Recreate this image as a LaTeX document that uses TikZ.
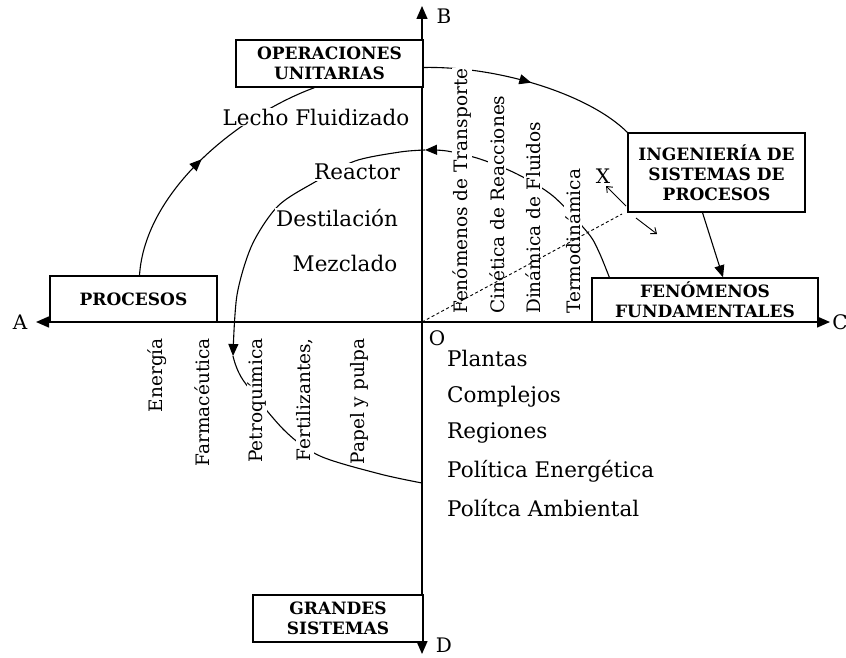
\documentclass[tikz,border=0pt]{standalone}
\usepackage{fontspec}
\setmainfont{DejaVu Serif}
\usetikzlibrary{arrows.meta,decorations.markings,calc}
\begin{document}
\begin{tikzpicture}[x=1pt,y=-1pt,
  box/.style={draw,line width=1.3pt,fill=white,inner sep=0pt,align=center,
     font=\fontsize{17}{20}\selectfont\bfseries},
  lbl/.style={font=\fontsize{21.5}{25}\selectfont,inner sep=1pt,fill=white},
  vlbl/.style={font=\fontsize{18.5}{22}\selectfont,inner sep=1pt,fill=white,rotate=90},
  axl/.style={font=\fontsize{20}{24}\selectfont,inner sep=0pt},
  axisline/.style={line width=1.4pt,-{Triangle[length=13pt,width=11pt]}},
  ln/.style={line width=1.1pt},
  bigtip/.style={-{Triangle[length=12pt,width=10pt]}},
  smalltip/.style={line width=0.9pt,-{Straight Barb[length=5pt,width=8pt]}},
  midtip/.style={postaction=decorate,decoration={markings,mark=at position #1 with {\arrow{Triangle[length=12pt,width=10pt]}}}},
]
\useasboundingbox (0,0) rectangle (846,658);
% axes
\coordinate (O) at (422,322);
\coordinate (Aend) at (36,322);
\coordinate (Bend) at (422,6);
\coordinate (Cend) at (830,322);
\coordinate (Dend) at (422,654);
\draw[axisline] (O) -- (Aend);
\draw[axisline] (O) -- (Bend);
\draw[axisline] (O) -- (Cend);
\draw[axisline] (O) -- (Dend);
\node[axl] (lA) at (20,322) {A};
\node[axl] (lB) at (444,16) {B};
\node[axl] (lC) at (840,322) {C};
\node[axl] (lD) at (444,645) {D};
\node[axl] (lO) at (437,338) {O};
% boxes
\node[box,minimum width=187pt,minimum height=47pt] (OPU) at (329.5,63.5) {OPERACIONES\\UNITARIAS};
\node[box,minimum width=177pt,minimum height=79pt] (ISP) at (716.5,172.5) {INGENIERÍA DE\\SISTEMAS DE\\PROCESOS};
\node[box,minimum width=226pt,minimum height=44pt] (FF) at (705,300) {FENÓMENOS\\FUNDAMENTALES};
\node[box,minimum width=167pt,minimum height=46pt] (PROC) at (133.5,299) {PROCESOS};
\node[box,minimum width=170pt,minimum height=47pt] (GS) at (338,618.5) {GRANDES\\SISTEMAS};
% curves
\draw[ln,midtip=0.5] ($(PROC.north)+(6,0)$) .. controls (145,190) and (240,115) .. ($(OPU.south)+(-15,0)$);
\draw[ln,midtip=0.5] ($(OPU.east)+(0,4)$) .. controls (500,66) and (590,95) .. (ISP.north west);
\draw[ln,bigtip] ($(ISP.south)+(-14,0)$) -- ($(FF.north)+(18,0)$);
\coordinate (f0) at ($(FF.north west)+(18,0)$);
\coordinate (k1) at (425,150);
\coordinate (k2) at (233,356);
\coordinate (k3) at (422,483);
\draw[ln,bigtip] plot[smooth] coordinates {(f0) (599,252) (588,233) (553,196) (517,174) (480,159) (447,151) (k1)};
\draw[ln,bigtip] plot[smooth] coordinates {(k1) (400,152) (355,161) (315,182) (278,206) (252,245) (237,295) (k2)};
\draw[ln] plot[smooth] coordinates {(k2) (243,380) (284,430) (320,456) (380,474) (k3)};
% small arrows near X
\coordinate (xa1) at (626,206);
\coordinate (xa2) at (606,186);
\coordinate (xb1) at (636,218);
\coordinate (xb2) at (657,234);
\draw[smalltip] (xa1) -- (xa2);
\draw[smalltip] (xb1) -- (xb2);
% labels upper left
\node[lbl] (lecho) at (316,117) {Lecho Fluidizado};
\node[lbl] (reac) at (357,172) {Reactor};
\node[lbl] (dest) at (337,218) {Destilación};
\node[lbl] (mezc) at (345,263) {Mezclado};
% rotated upper right
\node[vlbl,anchor=west] (fen) at (462,315) {Fenómenos de Transporte};
\node[vlbl,anchor=west] (cin) at (497,315) {Cinética de Reacciones};
\node[vlbl,anchor=west] (din) at (533,315) {Dinámica de Fluidos};
\node[vlbl,anchor=west] (ter) at (573,315) {Termodinámica};
\node[axl] (lX) at (603,176) {X};
% rotated lower left
\node[vlbl,anchor=east] (ene) at (157,337) {Energía};
\node[vlbl,anchor=east] (far) at (202,337) {Farmacéutica};
\node[vlbl,anchor=east] (pet) at (257,337) {Petroquímica};
\node[vlbl,anchor=east] (fer) at (305,337) {Fertilizantes,};
\node[vlbl,anchor=east] (pap) at (360,337) {Papel y pulpa};
% list lower right
\node[lbl,anchor=west] (pla) at (446,358) {Plantas};
\node[lbl,anchor=west] (com) at (446,397) {Complejos};
\node[lbl,anchor=west] (reg) at (446,433) {Regiones};
\node[lbl,anchor=west] (pen) at (446,471) {Política Energética};
\node[lbl,anchor=west] (pam) at (446,508) {Polítca Ambiental};
% dashed diagonal
\coordinate (dend) at (622,214);
\draw[line width=0.9pt,dash pattern=on 3pt off 2.5pt] (O) -- (dend);
\end{tikzpicture}
\end{document}
